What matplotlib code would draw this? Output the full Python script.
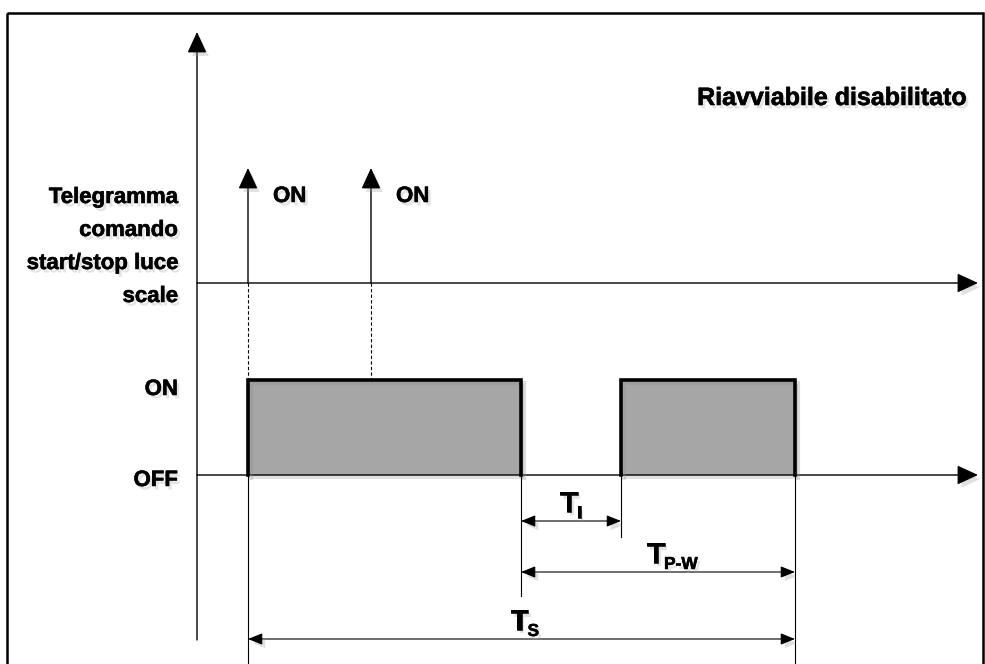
import matplotlib
matplotlib.use("Agg")
import matplotlib.pyplot as plt
from matplotlib.patches import Rectangle
import matplotlib.patheffects as pe

# events along the time axis (drawing units)
telegram_times = [248, 371]
telegram_labels = ["ON", "ON"]
pulse_starts = [248, 621]
pulse_ends = [521, 795]
level_labels = ["ON", "OFF"]
dim_labels = [("T", "I"), ("T", "P-W"), ("T", "S")]
dim_spans = [(521, 621), (521, 795), (248, 795)]
dim_rows = [521, 572, 639]
title = "Riavviabile disabilitato"
telegram_title = ["Telegramma", "comando", "start/stop luce", "scale"]

# layout (drawing units = pixels)
x_axis0, x_axis1 = 197, 978
y_tel, y_on, y_off = 283, 380, 475

FONT = ["Liberation Sans", "DejaVu Sans"]
shadow = [pe.SimplePatchShadow(offset=(2.5, -3), shadow_rgbFace="0.6", alpha=0.3), pe.Normal()]
tshadow = [pe.SimplePatchShadow(offset=(2, -2.5), shadow_rgbFace="0.65", alpha=0.3),
           pe.withStroke(linewidth=0.4, foreground="black")]
lshadow = [pe.SimpleLineShadow(offset=(2.5, -2.5), shadow_color="0.55", alpha=0.3, linewidth=3), pe.Normal()]

fig = plt.figure(figsize=(9.85, 6.64), dpi=100)
ax = fig.add_axes([0, 0, 1, 1])
ax.set_xlim(0, 985)
ax.set_ylim(664, 0)
ax.axis("off")

# frame
ax.add_patch(Rectangle((7, 13), 976, 680, fill=False, lw=1.8, ec="black", zorder=1))


def arrow(x0, y0, x1, y1, style="-|>,head_length=0.65,head_width=0.3", ms=20, lw=1.0):
    ax.annotate("", xy=(x1, y1), xytext=(x0, y0),
                arrowprops=dict(arrowstyle=style, mutation_scale=ms, lw=lw,
                                color="black", shrinkA=0, shrinkB=0,
                                path_effects=shadow), zorder=3)


def label(x, y, s, size=16, ha="left", va="baseline"):
    return ax.text(x, y, s, fontsize=size, fontweight="bold", family=FONT,
                   ha=ha, va=va, path_effects=tshadow)


# axes
arrow(x_axis0, 640, x_axis0, 32)
arrow(x_axis0, y_tel, x_axis1, y_tel)
arrow(x_axis0, y_off, x_axis1, y_off)

# telegrams
for t, lab in zip(telegram_times, telegram_labels):
    arrow(t, y_tel, t, 168)
    ax.plot([t, t], [y_tel, y_on], color="black", lw=0.8, ls=(0, (3, 2)), zorder=2)
    label(t + 25, 202, lab)

# output pulses
for s, e in zip(pulse_starts, pulse_ends):
    ax.add_patch(Rectangle((s, y_on), e - s, y_off - y_on, fc="#a6a6a6", ec="none",
                           zorder=2, path_effects=shadow))
    ax.plot([s, s, e, e], [y_off, y_on, y_on, y_off], color="black", lw=2.6,
            solid_joinstyle="miter", zorder=4, path_effects=lshadow)

# extension lines below OFF
ext_ends = {248: 664, 521: 596, 621: 537, 795: 664}
for x, yb in ext_ends.items():
    ax.plot([x, x], [y_off, yb], color="black", lw=0.8, zorder=2)

# dimension arrows
for (a, b), y, (m, sub) in zip(dim_spans, dim_rows, dim_labels):
    arrow(a, y, b, y, style="<|-|>,head_length=0.55,head_width=0.22", ms=16, lw=0.8)
    xc = (a + b) / 2
    label(xc + 7, y - 9, m, size=21, ha="right")
    label(xc + 6, y - 3, sub, size=12.5)

# left labels
for i, line in enumerate(telegram_title):
    label(178, 203 + 33 * i, line, ha="right")
for lab, y in zip(level_labels, [395, 486]):
    label(178, y, lab, ha="right")

label(966, 105, title, size=18, ha="right")

fig.savefig("out.png", dpi=100)
